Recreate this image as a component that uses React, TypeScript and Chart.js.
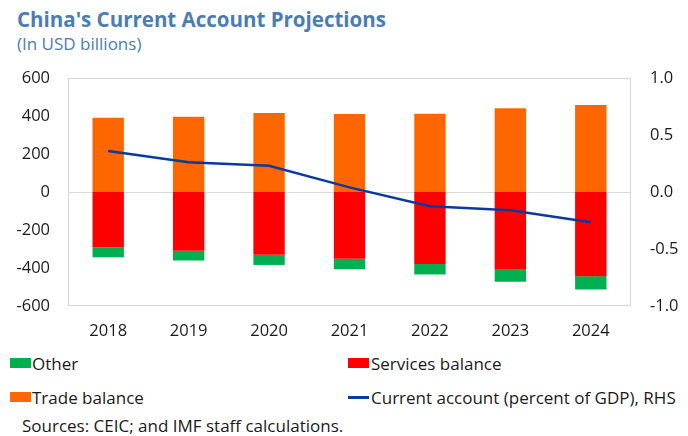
import React, { useEffect, useRef } from "react";
import { Chart, registerables } from "chart.js";

Chart.register(...registerables);

const years = ["2018", "2019", "2020", "2021", "2022", "2023", "2024"];
const tradeBalance = [391, 396, 416, 410, 412, 440, 457];
const servicesBalance = [-292, -309, -330, -351, -379, -409, -443];
const otherBalance = [-52, -51, -54, -56, -55, -64, -70];
const currentAccountPct = [0.36, 0.26, 0.23, 0.04, -0.125, -0.16, -0.265];

const leftTicks = [-600, -400, -200, 0, 200, 400, 600];
const rightTicks = [-1.0, -0.5, 0.0, 0.5, 1.0];

const FONT = '"Open Sans", "Noto Sans", sans-serif';
const BLUE_TITLE = "#4a7db3";
const C_TRADE = "#ff6600";
const C_SERV = "#ff0000";
const C_OTHER = "#00b050";
const C_LINE = "#0b3a9e";

const frame = {
  id: "frame",
  beforeDatasetsDraw(chart: any) {
    const { ctx, chartArea, scales } = chart;
    ctx.save();
    ctx.strokeStyle = "#d9d9d9";
    ctx.lineWidth = 1;
    ctx.strokeRect(
      Math.round(chartArea.left) + 0.5,
      Math.round(chartArea.top) + 0.5,
      Math.round(chartArea.right - chartArea.left) - 1,
      Math.round(chartArea.bottom - chartArea.top) - 1
    );
    const y0 = Math.round(scales.y.getPixelForValue(0)) + 0.5;
    ctx.beginPath();
    ctx.moveTo(chartArea.left, y0);
    ctx.lineTo(chartArea.right, y0);
    ctx.stroke();
    ctx.restore();
  },
};

export default function App() {
  const ref = useRef<HTMLCanvasElement | null>(null);

  useEffect(() => {
    if (!ref.current) return;
    const chart = new Chart(ref.current, {
      type: "bar",
      data: {
        labels: years,
        datasets: [
          {
            type: "line",
            label: "Current account (percent of GDP), RHS",
            data: currentAccountPct,
            borderColor: C_LINE,
            borderWidth: 2.5,
            pointRadius: 0,
            tension: 0,
            yAxisID: "y1",
            order: 0,
          } as any,
          {
            label: "Services balance",
            data: servicesBalance,
            backgroundColor: C_SERV,
            yAxisID: "y",
            order: 1,
          },
          {
            label: "Other",
            data: otherBalance,
            backgroundColor: C_OTHER,
            yAxisID: "y",
            order: 1,
          },
          {
            label: "Trade balance",
            data: tradeBalance,
            backgroundColor: C_TRADE,
            yAxisID: "y",
            order: 1,
          },
        ],
      },
      options: {
        animation: false,
        responsive: false,
        maintainAspectRatio: false,
        layout: { padding: { top: 6, left: 0, right: 0, bottom: 0 } },
        datasets: { bar: { barPercentage: 0.39, categoryPercentage: 1 } },
        plugins: { legend: { display: false }, tooltip: { enabled: false } },
        scales: {
          x: {
            stacked: true,
            grid: { display: false, drawTicks: false },
            border: { display: false },
            ticks: {
              color: "#1a1a1a",
              font: { family: FONT, size: 16.5 },
              padding: 15,
            },
            afterFit(s: any) {
              s.height = 44;
            },
          },
          y: {
            stacked: true,
            position: "left",
            min: -600,
            max: 600,
            afterBuildTicks(s: any) {
              s.ticks = leftTicks.map((v) => ({ value: v }));
            },
            grid: { display: false, drawTicks: false },
            border: { display: false },
            ticks: {
              color: "#1a1a1a",
              font: { family: FONT, size: 16.5 },
              padding: 18,
            },
            afterFit(s: any) {
              s.width = 68;
            },
          },
          y1: {
            position: "right",
            min: -1,
            max: 1,
            afterBuildTicks(s: any) {
              s.ticks = rightTicks.map((v) => ({ value: v }));
            },
            grid: { display: false, drawTicks: false },
            border: { display: false },
            ticks: {
              color: "#1a1a1a",
              font: { family: FONT, size: 16.5 },
              padding: 19,
              callback: (v: any) => Number(v).toFixed(1),
            },
            afterFit(s: any) {
              s.width = 57;
            },
          },
        },
      },
      plugins: [frame],
    });
    return () => chart.destroy();
  }, []);

  const textStyle: React.CSSProperties = {
    position: "absolute",
    fontFamily: FONT,
    fontSize: 17,
    lineHeight: "17px",
    color: "#1a1a1a",
    whiteSpace: "nowrap",
  };
  const box = (left: number, top: number, color: string): React.CSSProperties => ({
    position: "absolute",
    left,
    top,
    width: 21,
    height: 10,
    background: color,
  });

  return (
    <div
      style={{
        position: "fixed",
        left: 0,
        top: 0,
        width: 688,
        height: 436,
        background: "#fff",
        overflow: "hidden",
      }}
    >
      <div
        style={{
          position: "absolute",
          left: 17,
          top: 9,
          fontFamily: FONT,
          fontWeight: 700,
          fontSize: 20.5,
          lineHeight: "20.5px",
          color: BLUE_TITLE,
          whiteSpace: "nowrap",
        }}
      >
        China's Current Account Projections
      </div>
      <div
        style={{
          position: "absolute",
          left: 17,
          top: 35,
          fontFamily: FONT,
          fontSize: 17,
          lineHeight: "17px",
          color: BLUE_TITLE,
          whiteSpace: "nowrap",
        }}
      >
        (In USD billions)
      </div>
      <div style={{ position: "absolute", left: 0, top: 49, width: 688, height: 301 }}>
        <canvas ref={ref} width={688} height={301} style={{ display: "block" }} />
      </div>

      <div style={box(10, 358, C_OTHER)} />
      <div style={{ ...textStyle, left: 32, top: 355 }}>Other</div>
      <div style={box(348, 358, C_SERV)} />
      <div style={{ ...textStyle, left: 371, top: 355 }}>Services balance</div>

      <div style={box(10, 392, C_TRADE)} />
      <div style={{ ...textStyle, left: 32, top: 389 }}>Trade balance</div>
      <div
        style={{
          position: "absolute",
          left: 348,
          top: 396,
          width: 21,
          height: 2.5,
          background: C_LINE,
        }}
      />
      <div style={{ ...textStyle, left: 371, top: 389 }}>
        Current account (percent of GDP), RHS
      </div>

      <div style={{ ...textStyle, left: 22, top: 416.5 }}>
        Sources: CEIC; and IMF staff calculations.
      </div>
    </div>
  );
}
